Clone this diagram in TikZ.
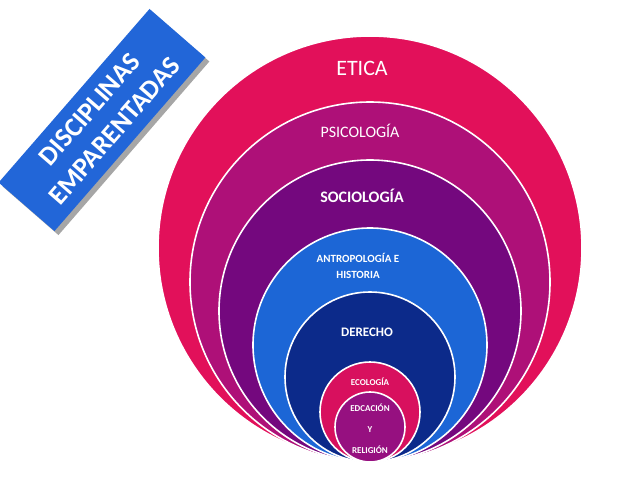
\documentclass[tikz,border=0pt]{standalone}
\usepackage{fontspec}
\setmainfont{Carlito}
\definecolor{cA}{HTML}{E2105A}
\definecolor{cB}{HTML}{AE1078}
\definecolor{cC}{HTML}{74087E}
\definecolor{cD}{HTML}{1C66D6}
\definecolor{cE}{HTML}{0C2A8A}
\definecolor{cF}{HTML}{D8105E}
\definecolor{cG}{HTML}{961080}
\definecolor{boxblue}{HTML}{2266D8}
\tikzset{ring/.style={circle,draw=white,line width=1.6pt,inner sep=0pt},
lab/.style={text=white,align=center,inner sep=0pt}}
\begin{document}
\begin{tikzpicture}[x=1pt,y=-1pt]
\useasboundingbox (0,0) rectangle (640,480);
\node[ring,fill=cA,minimum size=424pt] (c1) at (370,248) {};
\node[ring,fill=cB,minimum size=360pt] (c2) at (370,282) {};
\node[ring,fill=cC,minimum size=302pt] (c3) at (370,311) {};
\node[ring,fill=cD,minimum size=234pt] (c4) at (370,345) {};
\node[ring,fill=cE,minimum size=170pt] (c5) at (370,377) {};
\node[ring,fill=cF,minimum size=100pt] (c6) at (370,412) {};
\node[ring,fill=cG,minimum size=70pt] (c7) at (370,427) {};
\node[lab,font=\fontsize{22}{24}\selectfont] (t1) at (362,68) {ETICA};
\node[lab,font=\fontsize{16}{18}\selectfont] (t2) at (360,131) {PSICOLOGÍA};
\node[lab,font=\bfseries\fontsize{16}{18}\selectfont] (t3) at (362,196) {SOCIOLOGÍA};
\node[lab,font=\bfseries\fontsize{11}{16}\selectfont] (t4) at (358,266) {ANTROPOLOGÍA E\\HISTORIA};
\node[lab,font=\bfseries\fontsize{13}{15}\selectfont] (t5) at (367,332) {DERECHO};
\node[lab,font=\bfseries\fontsize{9}{11}\selectfont] (t6) at (370,382) {ECOLOGÍA};
\node[lab,font=\bfseries\fontsize{9}{21}\selectfont] (t7) at (370,429) {EDCACIÓN\\Y\\RELIGIÓN};
\node[rotate=49,minimum width=230pt,minimum height=74pt,fill=black!35,inner sep=0pt] (sh) at (106,124) {};
\node[rotate=49,minimum width=230pt,minimum height=74pt,fill=boxblue,text=white,align=center,inner sep=0pt,
font=\bfseries\fontsize{27}{33}\selectfont] (box) at (102,120) {DISCIPLINAS\\EMPARENTADAS};
\end{tikzpicture}
\end{document}
